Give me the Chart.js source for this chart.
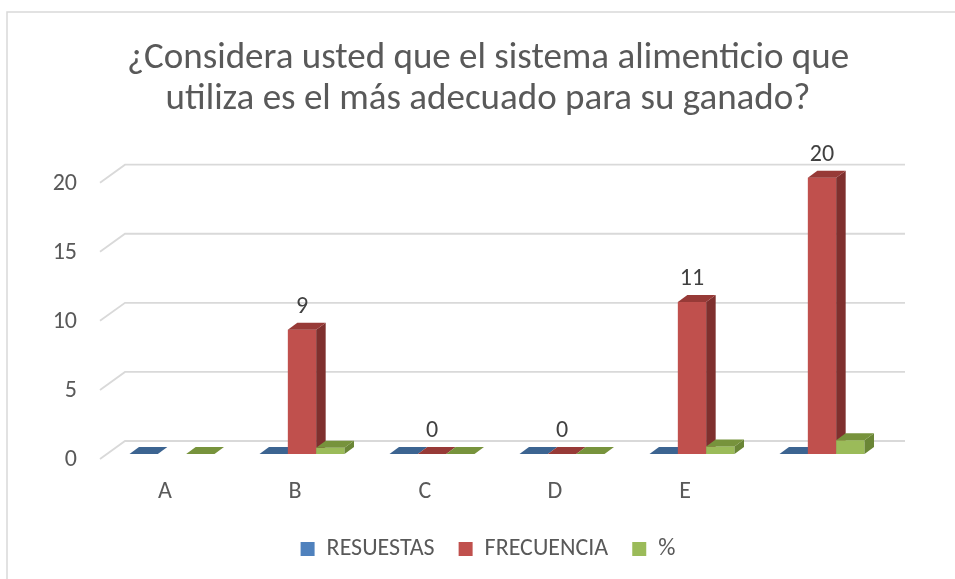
<!DOCTYPE html>
<html>
<head>
<meta charset="utf-8">
<script src="https://cdn.jsdelivr.net/npm/chart.js@4.4.1/dist/chart.umd.min.js"></script>
<style>
  html, body { margin: 0; padding: 0; background: #ffffff; }
  #wrap { position: relative; width: 955px; height: 579px; }
</style>
</head>
<body>
<div id="wrap"><canvas id="c"></canvas></div>
<script>
// ---- data ----
const categories = ['A', 'B', 'C', 'D', 'E', ''];
const resuestas  = [0, 0, 0, 0, 0, 0];
const frecuencia = [null, 9, 0, 0, 11, 20];
const porcentaje = [0, 0.45, 0, 0, 0.55, 1];
const yTicks = [0, 5, 10, 15, 20];
const titleLines = ['¿Considera usted que el sistema alimenticio que', 'utiliza es el más adecuado para su ganado?'];

// ---- styles ----
const FONT = 'Carlito, Lato, "Liberation Sans", sans-serif';
const TEXT = '#595959';
const GRID = '#d9d9d9';
const faces = [
  { front: '#4f81bd', side: '#385d8a', top: '#3c6491' },
  { front: '#c0504d', side: '#7f302e', top: '#973a37' },
  { front: '#9bbb59', side: '#6a8636', top: '#77933c' }
];
const DX = 9.5, DY = 7;          // bar depth
const WX = 25, WY = 18;          // floor depth
const BACK = 13;                 // bar base to back wall

const framePlugin = {
  id: 'frame',
  beforeDraw(chart) {
    const ctx = chart.ctx;
    ctx.save();
    ctx.fillStyle = '#ffffff';
    ctx.fillRect(0, 0, chart.width, chart.height);
    ctx.strokeStyle = GRID;
    ctx.lineWidth = 1.5;
    ctx.beginPath();
    ctx.moveTo(7, chart.height);
    ctx.lineTo(7, 12);
    ctx.lineTo(chart.width, 12);
    ctx.stroke();
    ctx.restore();
  }
};

const wallPlugin = {
  id: 'wall',
  beforeDatasetsDraw(chart) {
    const ctx = chart.ctx, y = chart.scales.y, a = chart.chartArea;
    ctx.save();
    ctx.strokeStyle = GRID;
    ctx.lineWidth = 1.8;
    y.ticks.forEach(t => {
      const yb = y.getPixelForValue(t.value) - BACK;
      ctx.beginPath();
      ctx.moveTo(a.left - WX + 18, yb + WY);
      ctx.lineTo(a.left + 18, yb);
      ctx.lineTo(a.right + 18, yb);
      ctx.stroke();
    });
    ctx.restore();
  }
};

const bars3d = {
  id: 'bars3d',
  beforeDatasetDraw() { return false; },
  afterDatasetsDraw(chart) {
    const ctx = chart.ctx;
    ctx.save();
    const n = chart.data.labels.length;
    for (let i = 0; i < n; i++) {
      chart.data.datasets.forEach((ds, d) => {
        const v = ds.data[i];
        if (v === null || v === undefined) return;
        const el = chart.getDatasetMeta(d).data[i];
        const f = faces[d];
        const x0 = el.x - el.width / 2, x1 = el.x + el.width / 2;
        const top = el.y, base = el.base;
        ctx.fillStyle = f.front;
        ctx.fillRect(x0, top, x1 - x0, base - top);
        if (base - top > 0.5) {
          ctx.fillStyle = f.side;
          ctx.beginPath();
          ctx.moveTo(x1, base);
          ctx.lineTo(x1 + DX, base - DY);
          ctx.lineTo(x1 + DX, top - DY);
          ctx.lineTo(x1, top);
          ctx.closePath();
          ctx.fill();
        }
        ctx.fillStyle = f.top;
        ctx.beginPath();
        ctx.moveTo(x0, top);
        ctx.lineTo(x1, top);
        ctx.lineTo(x1 + DX, top - DY);
        ctx.lineTo(x0 + DX, top - DY);
        ctx.closePath();
        ctx.fill();
      });
    }
    // data labels for FRECUENCIA
    ctx.fillStyle = '#404040';
    ctx.font = '24px ' + FONT;
    ctx.textAlign = 'center';
    ctx.textBaseline = 'middle';
    const meta = chart.getDatasetMeta(1);
    chart.data.datasets[1].data.forEach((v, i) => {
      if (v === null || v === undefined) return;
      const el = meta.data[i];
      ctx.fillText(String(v), el.x, el.y - 23);
    });
    ctx.restore();
  }
};

new Chart(document.getElementById('c'), {
  type: 'bar',
  data: {
    labels: categories,
    datasets: [
      { label: 'RESUESTAS', data: resuestas, backgroundColor: faces[0].front },
      { label: 'FRECUENCIA', data: frecuencia, backgroundColor: faces[1].front },
      { label: '%', data: porcentaje, backgroundColor: faces[2].front }
    ]
  },
  options: {
    responsive: true,
    maintainAspectRatio: false,
    animation: false,
    events: [],
    categoryPercentage: 0.654,
    barPercentage: 1,
    layout: { padding: { left: 52, right: 31, top: 0, bottom: 8 } },
    plugins: {
      title: {
        display: true,
        text: titleLines,
        color: TEXT,
        font: { family: FONT, size: 37, weight: 'normal', lineHeight: 1.09 },
        padding: { top: 39, bottom: 58 }
      },
      legend: {
        position: 'bottom',
        labels: {
          color: TEXT,
          font: { family: FONT, size: 24 },
          boxWidth: 14,
          boxHeight: 14,
          padding: 24
        }
      },
      tooltip: { enabled: false }
    },
    scales: {
      x: {
        grid: { display: false },
        border: { display: false },
        ticks: {
          color: TEXT,
          font: { family: FONT, size: 24 },
          padding: 16,
          labelOffset: -7,
          maxRotation: 0
        },
        afterFit(s) { s.height = 59; }
      },
      y: {
        min: 0,
        max: 20,
        grid: { display: false },
        border: { display: false },
        ticks: {
          stepSize: 5,
          color: TEXT,
          font: { family: FONT, size: 24 },
          padding: 22,
          labelOffset: 6,
          callback: (v) => (yTicks.includes(v) ? String(v) : '')
        },
        afterFit(s) { s.width = 55; }
      },
      yR: {
        position: 'right',
        display: true,
        grid: { display: false },
        border: { display: false },
        ticks: { display: false },
        afterFit(s) { s.width = 37; }
      }
    }
  },
  plugins: [framePlugin, wallPlugin, bars3d]
});
</script>
</body>
</html>
